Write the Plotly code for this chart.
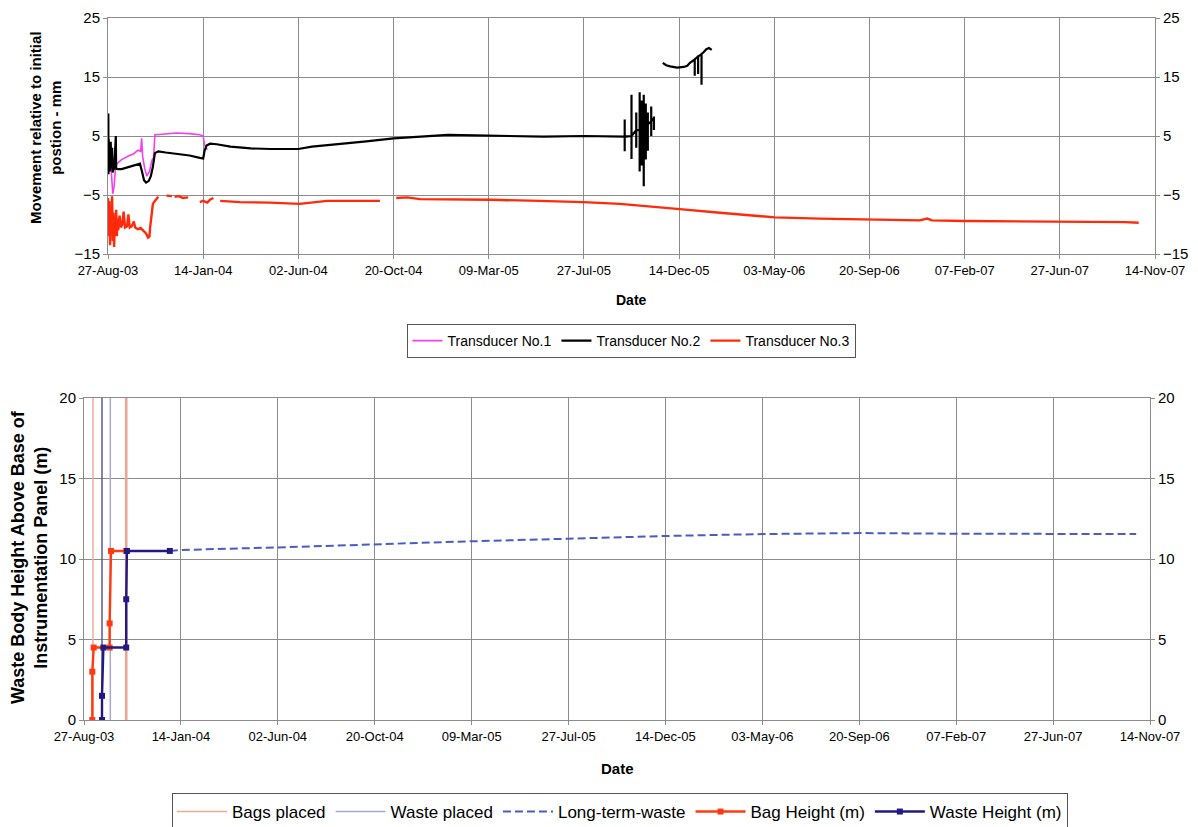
import pandas as pd
import plotly.graph_objects as go

START = "2003-08-27"
END = "2007-11-14"
TICK_DAYS = 140

# ---------------- top chart: days since START, movement in mm ----------------
t1_days = [0, 2, 4, 7, 9, 11, 13, 20, 30, 38, 44, 48, 49.5, 51, 54, 57, 61, 65, 67, 69,
           80, 100, 120, 135, 140, 142, 146]
t1_mm = [1.5, -1.0, 0.5, -4.8, -3.5, -0.5, 0.3, 1.0, 1.6, 2.0, 2.6, 2.4, 4.6, 1.5, -0.5, -1.8, -1.0, 1.0, 1.3, 5.2,
         5.3, 5.5, 5.4, 5.2, 5.0, 3.5, 2.7]

t2_days = [0, 0.5, 0.7, 1, 1.5, 2, 3, 4, 5, 6,
           7, 8, 9, 10, 11.5, 12, 14, 20, 30, 40,
           47, 50, 53, 56, 60, 63, 66, 69, 74, 85,
           100, 120, 135, 140, 142, 145, 150, 160, 180, 210,
           240, 280, 300, 340, 380, 420, 460, 500, 540, 580,
           640, 700, 750, 758]
t2_mm = [2.0, 8.8, -1.5, 4.5, -0.5, 3.5, -1.0, 4.0, -0.5, 3.0,
         -1.2, 0.5, -0.8, 2.0, 5.0, -0.5, -0.6, -0.6, -0.3, 0.1,
         0.3, -1.0, -2.5, -2.9, -2.6, -1.8, -0.2, 2.1, 2.4, 2.2,
         2.0, 1.7, 1.3, 1.2, 2.5, 3.4, 3.7, 3.6, 3.2, 2.9,
         2.8, 2.8, 3.2, 3.6, 4.1, 4.6, 4.9, 5.2, 5.1, 5.0,
         4.9, 5.0, 5.0, 4.9]
# erratic readings Sep-Nov 2005: day, base, high, low
t2_spike_days = [760, 770, 777, 782, 785, 788, 791, 794, 799, 803]
t2_spike_base = [4.9, 5.0, 6.0, 6.0, 6.0, 5.0, 6.0, 7.0, 7.5, 8.0]
t2_spike_high = [7.8, 12.0, 9.0, 12.4, 11.0, 12.0, 10.5, 9.0, 10.0, 8.3]
t2_spike_low = [2.4, 1.1, 3.0, -1.0, 0.0, -3.5, 1.0, 2.5, 5.0, 6.0]
# Nov 2005 - Jan 2006 segment
t2b_days = [816, 821, 827, 837, 847, 852, 856, 861, 863, 866, 868, 871, 873, 876, 880, 884, 888]
t2b_mm = [17.4, 17.0, 16.8, 16.6, 16.7, 16.9, 17.4, 17.9, 18.0, 18.3, 18.5, 18.7, 18.9, 19.2, 19.7, 19.9, 19.6]
t2b_dip_days = [863, 868, 873]
t2b_dip_low = [15.2, 15.5, 13.7]

t3_segments_days = [
    [0, 1, 2, 3, 4, 5, 6, 7, 8, 9, 10, 11, 12, 13, 14, 15,
     17, 19, 21, 23, 25, 28, 30, 32, 35, 38, 40, 44, 48, 52, 56, 59, 61, 62, 64, 66, 69, 72, 74],
    [86, 94],
    [98, 104, 110, 118],
    [135, 140, 146, 150, 155],
    [165, 194, 238, 282, 322, 356, 400],
    [424, 440, 459, 503, 562, 635, 699, 753, 797, 841, 900, 981, 1047, 1122, 1194, 1205, 1212,
     1259, 1327, 1402, 1459, 1496, 1516],
]
t3_segments_mm = [
    [-5.5, -12, -6, -13.5, -7, -11, -5.2, -12.8, -8, -13.8, -9, -11.5, -7.5, -12, -9, -11,
     -8.5, -10.5, -10, -7.8, -10.5, -10.3, -8.3, -10.5, -10.3, -9.5, -10.5, -10.8, -10.6, -11.0, -11.5, -12.2, -12.0,
     -10.5, -8.5, -6.5, -6.0, -5.5, -5.3],
    [-5.1, -5.2],
    [-5.3, -5.2, -5.5, -5.4],
    [-6.2, -6.0, -6.3, -5.8, -5.5],
    [-6.0, -6.2, -6.3, -6.5, -6.0, -6.0, -6.0],
    [-5.5, -5.4, -5.7, -5.7, -5.8, -6.0, -6.2, -6.5, -7.0, -7.4, -8.0, -8.8, -9.0, -9.2, -9.3, -9.0, -9.3,
     -9.4, -9.45, -9.45, -9.5, -9.6, -9.7],
]

# ---------------- bottom chart ----------------
bags_placed_dates = ["2003-09-09", "2003-10-27"]
waste_placed_dates = ["2003-09-22", "2003-10-04"]
bag_dates = ["2003-09-08", "2003-09-08", "2003-09-10", "2003-10-03", "2003-10-03", "2003-10-05", "2003-10-27"]
bag_height = [0, 3.0, 4.5, 4.5, 6.0, 10.5, 10.5]
waste_dates = ["2003-09-22", "2003-09-22", "2003-09-24", "2003-10-27", "2003-10-27", "2003-10-28", "2003-12-29"]
waste_height = [0, 1.5, 4.5, 4.5, 7.5, 10.5, 10.5]
ltw_dates = ["2003-12-29", "2004-01-14", "2004-06-02", "2004-10-20", "2005-03-09", "2005-07-27",
             "2005-12-14", "2006-05-03", "2006-09-20", "2007-02-07", "2007-06-27", "2007-10-25"]
ltw_height = [10.5, 10.56, 10.72, 10.93, 11.1, 11.26, 11.43, 11.55, 11.61, 11.57, 11.57, 11.55]

base = pd.Timestamp(START)


def to_date(d):
    return None if d is None else (base + pd.Timedelta(days=d)).strftime("%Y-%m-%d %H:%M")


# build black series: main, spikes, gap, late segment
t2x, t2y = [to_date(d) for d in t2_days], list(t2_mm)
for d, b, h, l in zip(t2_spike_days, t2_spike_base, t2_spike_high, t2_spike_low):
    t2x += [to_date(d)] * 4
    t2y += [b, h, l, b]
t2x.append(None)
t2y.append(None)
dips = dict(zip(t2b_dip_days, t2b_dip_low))
for d, v in zip(t2b_days, t2b_mm):
    t2x.append(to_date(d))
    t2y.append(v)
    if d in dips:
        t2x += [to_date(d)] * 2
        t2y += [dips[d], v]

t3x, t3y = [], []
for ds, vs in zip(t3_segments_days, t3_segments_mm):
    t3x += [to_date(d) for d in ds] + [None]
    t3y += list(vs) + [None]

# page layout: the figure sits 8px in from the window's top-left corner
OFF = 8
FIG_W, FIG_H = 1198 - OFF, 827 - OFF


def px(x):
    return (x - OFF) / FIG_W


def py(y):
    return 1 - (y - OFF) / FIG_H


FONT = "Arial, 'Liberation Sans', sans-serif"
GRID = "#8c8c8c"

fig = go.Figure()
fig.add_trace(go.Scatter(x=[to_date(d) for d in t1_days], y=t1_mm, mode="lines",
                         line=dict(color="#f040f0", width=1.6), name="Transducer No.1",
                         xaxis="x", yaxis="y", legend="legend"))
fig.add_trace(go.Scatter(x=t2x, y=t2y, mode="lines", line=dict(color="#000000", width=2.2),
                         name="Transducer No.2", xaxis="x", yaxis="y", legend="legend"))
fig.add_trace(go.Scatter(x=t3x, y=t3y, mode="lines", line=dict(color="#ff2a0a", width=2.4),
                         name="Transducer No.3", xaxis="x", yaxis="y", legend="legend"))
# right-hand mirror axis for the top chart
fig.add_trace(go.Scatter(x=[START], y=[0], mode="markers", marker=dict(opacity=0), showlegend=False,
                         hoverinfo="skip", xaxis="x", yaxis="y3"))

# bottom chart
fig.add_trace(go.Scatter(x=[bags_placed_dates[0], bags_placed_dates[0]], y=[0, 20], mode="lines",
                         line=dict(color="#f0a898", width=1.5), name="Bags placed",
                         xaxis="x2", yaxis="y2", legend="legend2", legendgroup="bags"))
fig.add_trace(go.Scatter(x=[bags_placed_dates[1], bags_placed_dates[1]], y=[0, 20], mode="lines",
                         line=dict(color="#eaa494", width=2.6), showlegend=False,
                         xaxis="x2", yaxis="y2", legend="legend2", legendgroup="bags"))
fig.add_trace(go.Scatter(x=[waste_placed_dates[1], waste_placed_dates[1]], y=[0, 20], mode="lines",
                         line=dict(color="#a8a8d4", width=1.5), name="Waste placed",
                         xaxis="x2", yaxis="y2", legend="legend2", legendgroup="waste"))
fig.add_trace(go.Scatter(x=[waste_placed_dates[0], waste_placed_dates[0]], y=[0, 20], mode="lines",
                         line=dict(color="#5a5a98", width=1.5), showlegend=False,
                         xaxis="x2", yaxis="y2", legend="legend2", legendgroup="waste"))
fig.add_trace(go.Scatter(x=ltw_dates, y=ltw_height, mode="lines",
                         line=dict(color="#4a5cc4", width=2, dash="8px,4px"), name="Long-term-waste",
                         xaxis="x2", yaxis="y2", legend="legend2"))
fig.add_trace(go.Scatter(x=bag_dates, y=bag_height, mode="lines+markers",
                         line=dict(color="#ff3a10", width=2.4),
                         marker=dict(symbol="square", size=6, color="#ff3a10"),
                         name="Bag Height (m)", xaxis="x2", yaxis="y2", legend="legend2"))
fig.add_trace(go.Scatter(x=waste_dates, y=waste_height, mode="lines+markers",
                         line=dict(color="#221a80", width=2.4),
                         marker=dict(symbol="square", size=6, color="#221a80"),
                         name="Waste Height (m)", xaxis="x2", yaxis="y2", legend="legend2"))
fig.add_trace(go.Scatter(x=[START], y=[0], mode="markers", marker=dict(opacity=0), showlegend=False,
                         hoverinfo="skip", xaxis="x2", yaxis="y4"))

xcommon = dict(type="date", range=[START, END], tick0=START, dtick=TICK_DAYS * 86400000,
               tickformat="%d-%b-%y", showgrid=True, gridcolor=GRID, gridwidth=1,
               showline=True, linecolor=GRID, linewidth=1, mirror=True,
               ticks="outside", ticklen=4, tickcolor=GRID, automargin=False, ticklabeloverflow="allow",
               tickfont=dict(family=FONT, size=13, color="#000"), zeroline=False)
ycommon = dict(showgrid=True, gridcolor=GRID, gridwidth=1, showline=True, linecolor=GRID,
               linewidth=1, mirror=True, ticks="outside", ticklen=4, tickcolor=GRID, automargin=False,
               ticklabeloverflow="allow",
               tickfont=dict(family=FONT, size=15, color="#000"), zeroline=False)
yright = dict(side="right", showgrid=False, zeroline=False, showline=True, linecolor=GRID,
              ticks="outside", ticklen=4, tickcolor=GRID, automargin=False, ticklabeloverflow="allow",
              tickfont=dict(family=FONT, size=15, color="#000"))

fig.update_layout(
    width=FIG_W, height=FIG_H, autosize=False,
    margin=dict(l=0, r=0, t=0, b=0, autoexpand=False),
    paper_bgcolor="white", plot_bgcolor="white",
    font=dict(family=FONT, color="#000"),
    xaxis=dict(domain=[px(108), px(1155)], anchor="y", **xcommon),
    yaxis=dict(domain=[py(254), py(18)], anchor="x", range=[-15, 25], tick0=-15, dtick=10, **ycommon),
    yaxis3=dict(overlaying="y", anchor="x", range=[-15, 25], tick0=-15, dtick=10, **yright),
    xaxis2=dict(domain=[px(84), px(1150)], anchor="y2", **xcommon),
    yaxis2=dict(domain=[py(720), py(398)], anchor="x2", range=[0, 20], tick0=0, dtick=5, **ycommon),
    yaxis4=dict(overlaying="y2", anchor="x2", range=[0, 20], tick0=0, dtick=5, **yright),
    legend=dict(orientation="h", x=px(631), y=py(341), xanchor="center", yanchor="middle",
                bordercolor="#555", borderwidth=1, bgcolor="white",
                font=dict(family=FONT, size=14, color="#000")),
    legend2=dict(orientation="h", x=px(620), y=py(812), xanchor="center", yanchor="middle",
                 bordercolor="#555", borderwidth=1, bgcolor="white", itemwidth=50,
                 font=dict(family=FONT, size=17, color="#000")),
    showlegend=True,
    annotations=[
        dict(text="<b>Movement relative to initial<br>postion - mm</b>", textangle=-90,
             x=px(45), y=py(128), xref="paper", yref="paper", xanchor="center", yanchor="middle",
             showarrow=False, font=dict(family=FONT, size=15, color="#000")),
        dict(text="<b>Date</b>", x=px(631), y=py(300), xref="paper", yref="paper",
             xanchor="center", yanchor="middle", showarrow=False, font=dict(family=FONT, size=14, color="#000")),
        dict(text="<b>Waste Body Height Above Base of<br>Instrumentation Panel (m)</b>", textangle=-90,
             x=px(29), y=py(557), xref="paper", yref="paper", xanchor="center", yanchor="middle",
             showarrow=False, font=dict(family=FONT, size=18, color="#000")),
        dict(text="<b>Date</b>", x=px(617), y=py(768), xref="paper", yref="paper",
             xanchor="center", yanchor="middle", showarrow=False, font=dict(family=FONT, size=15, color="#000")),
    ],
)

fig.write_html("out.html")
